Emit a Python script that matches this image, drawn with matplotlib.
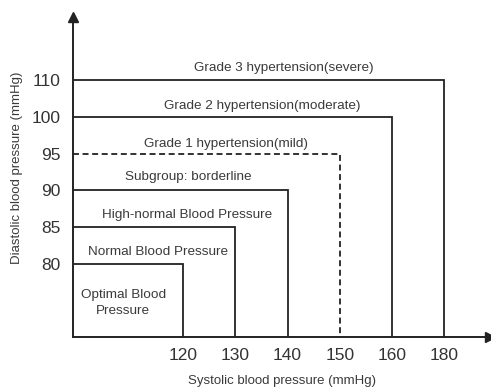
import matplotlib
matplotlib.use("Agg")
import matplotlib.pyplot as plt

# Blood pressure grade thresholds (systolic / diastolic, mmHg)
systolic = [120, 130, 140, 150, 160, 180]
diastolic = [80, 85, 90, 95, 100, 110]
dashed = [False, False, False, True, False, False]

categories = [
    "Optimal Blood\nPressure",
    "Normal Blood Pressure",
    "High-normal Blood Pressure",
    "Subgroup: borderline",
    "Grade 1 hypertension(mild)",
    "Grade 2 hypertension(moderate)",
    "Grade 3 hypertension(severe)",
]

# label anchor positions on the ordinal grid (x, y)
label_pos = [(0.86, 0.93), (1.53, 2.32), (2.08, 3.32), (2.11, 4.36),
             (2.82, 5.26), (3.51, 6.29), (3.93, 7.33)]

plt.rcParams["font.family"] = ["Liberation Sans", "DejaVu Sans"]

line_col = "#222222"
text_col = "#3a3a3a"

fig = plt.figure(figsize=(4.91, 3.90), dpi=100)
ax = fig.add_axes([73 / 491, 53 / 390, 417 / 491, 320 / 390])

x0, y0 = -0.1, 0.0
ax.set_xlim(x0, 7.87)
ax.set_ylim(y0, 8.72)

# ordinal positions: thresholds sit on an evenly spaced grid
xpos = [i + 2 for i in range(len(systolic))]
ypos = [i + 2 for i in range(len(diastolic))]

for xp, yp, d in zip(xpos, ypos, dashed):
    ls = (0, (3.3, 2.0)) if d else "-"
    ax.plot([x0, xp, xp], [yp, yp, y0], color=line_col, lw=1.3,
            linestyle=ls, solid_joinstyle="miter")

for txt, (lx, ly) in zip(categories, label_pos):
    ax.text(lx, ly, txt, ha="center", va="center", fontsize=9.7,
            color=text_col, linespacing=1.45)

ax.set_xticks(xpos)
ax.set_xticklabels([str(v) for v in systolic])
ax.set_yticks(ypos)
ax.set_yticklabels([str(v) for v in diastolic])
ax.tick_params(length=0, labelsize=12.5, labelcolor="#333333")
ax.tick_params(axis="x", pad=8)
ax.tick_params(axis="y", pad=9)

for s in ("top", "right"):
    ax.spines[s].set_visible(False)
for s in ("left", "bottom"):
    ax.spines[s].set_color(line_col)
    ax.spines[s].set_linewidth(1.4)

# arrow heads at the ends of both axes
ax.plot(1, 0, ">", color=line_col, markersize=7, transform=ax.transAxes,
        clip_on=False)
ax.plot(0, 1, "^", color=line_col, markersize=7, transform=ax.transAxes,
        clip_on=False)

ax.set_xlabel("Systolic blood pressure (mmHg)", fontsize=9.5, color=text_col)
ax.set_ylabel("Diastolic blood pressure (mmHg)", fontsize=9.5, color=text_col)
ax.xaxis.set_label_coords(0.5, -0.12)
ax.yaxis.set_label_coords(-0.12, 0.53)

fig.savefig("out.png", dpi=100)
